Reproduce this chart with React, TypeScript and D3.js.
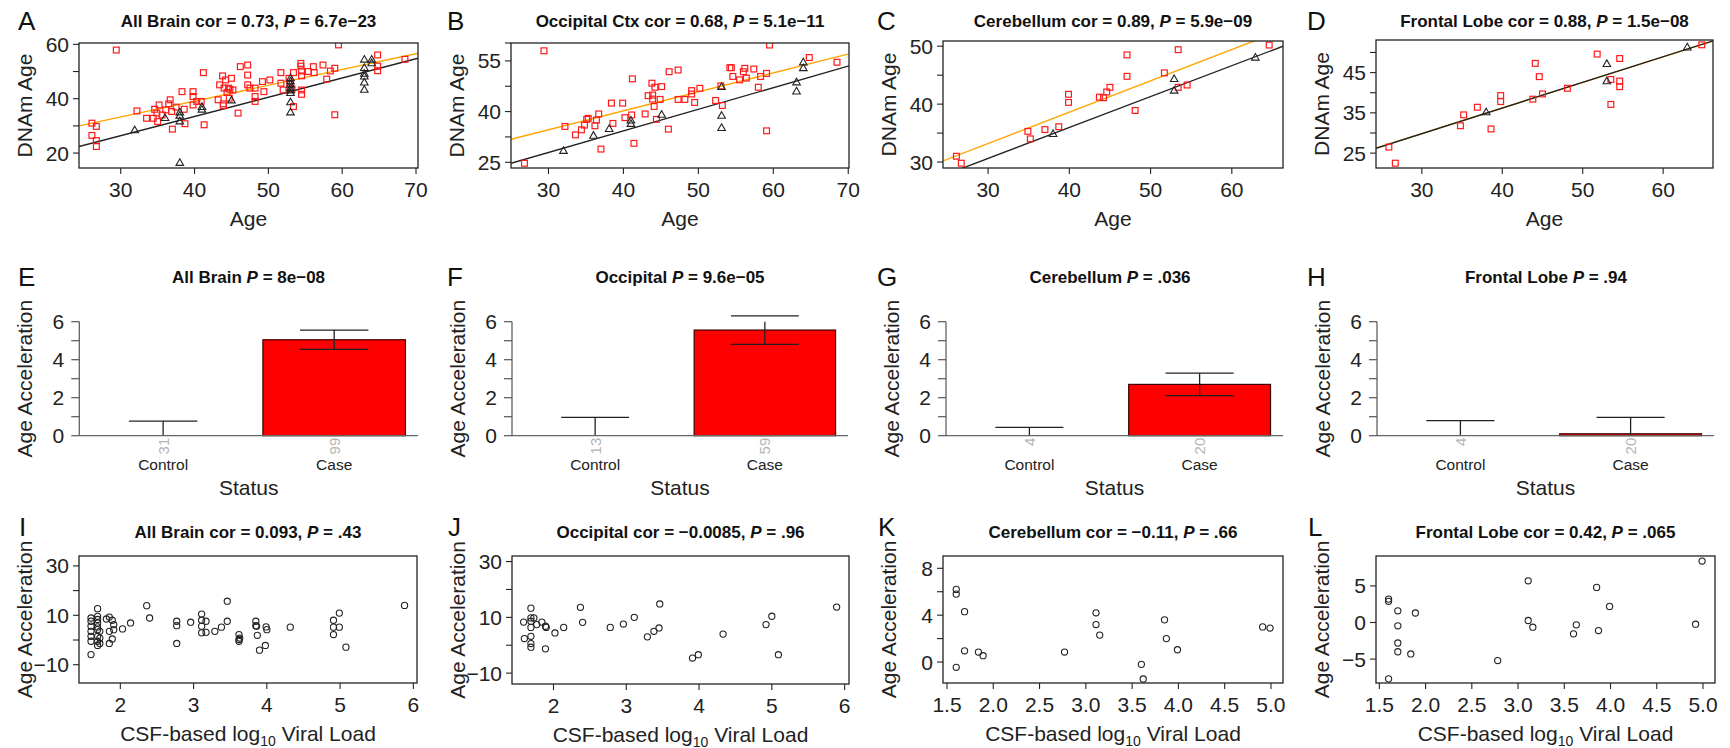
import React from 'react';
import * as d3 from 'd3';

type Pt = [number, number];

// ---------------- Row 1: chronological age vs DNAm age ----------------
// red squares = HIV cases, black triangles = controls; fits are [intercept, slope]
const allBrainCases: Pt[] = [
  [26.1, 31.0], [26.1, 26.5], [26.7, 29.8], [26.7, 24.6], [26.7, 22.4], [29.4, 57.9], [32.2, 35.5],
  [33.5, 32.8], [34.4, 32.8], [34.6, 36.1], [34.9, 34.7], [35.0, 31.6], [35.2, 37.7], [35.6, 34.0],
  [36.1, 35.9], [36.5, 38.1], [36.7, 39.6], [36.9, 35.3], [37.0, 28.8], [37.5, 36.9], [38.3, 42.6],
  [38.6, 36.1], [38.7, 30.8], [39.8, 42.6], [39.8, 40.8], [39.8, 37.7], [40.3, 39.0], [40.9, 39.0],
  [41.2, 49.6], [41.3, 30.4], [43.2, 39.6], [43.4, 45.1], [43.8, 48.4], [43.9, 38.1], [43.9, 37.4],
  [44.0, 43.9], [44.2, 46.9], [44.4, 42.3], [44.6, 43.9], [44.7, 40.2], [44.8, 43.5], [45.0, 47.5],
  [45.2, 43.2], [45.9, 34.7], [46.2, 51.8], [47.2, 52.4], [47.2, 48.7], [47.2, 45.1], [47.5, 43.9],
  [48.2, 43.9], [48.2, 40.8], [48.2, 39.0], [49.2, 46.3], [49.4, 42.6], [50.2, 46.9], [51.7, 49.6],
  [51.7, 45.7], [52.0, 43.2], [52.8, 47.5], [52.9, 45.7], [53.2, 43.5], [53.4, 37.1], [53.4, 49.6],
  [54.4, 53.0], [54.4, 52.0], [54.5, 50.2], [54.5, 48.4], [54.5, 43.2], [54.5, 41.6], [55.4, 50.0],
  [56.1, 51.8], [56.2, 49.6], [57.4, 52.4], [57.9, 47.2], [58.4, 50.2], [59.0, 51.2], [59.0, 34.1],
  [59.5, 59.8], [64.8, 56.1], [64.8, 52.0], [64.8, 50.3], [68.5, 54.5],
];
const allBrainControls: Pt[] = [
  [31.9, 28.3], [36.0, 32.8], [38.0, 16.3], [38.0, 34.9], [38.0, 33.7], [38.0, 31.6], [41.0, 36.9],
  [41.0, 35.9], [45.0, 39.3], [53.0, 47.5], [53.0, 46.3], [53.0, 45.1], [53.0, 43.9], [53.0, 43.0],
  [53.0, 42.0], [53.0, 38.6], [53.0, 34.9], [63.0, 54.3], [63.0, 51.2], [63.0, 49.1], [63.0, 48.1],
  [63.0, 45.9], [63.0, 43.2], [64.0, 54.3], [64.0, 53.0],
];
const allBrainCaseFit = [15.83, 0.582];
const allBrainControlFit = [5.16, 0.708];

const occipitalCases: Pt[] = [
  [26.8, 24.7], [29.4, 58.0], [32.2, 35.6], [33.6, 33.1], [34.4, 34.6], [34.8, 36.0], [35.1, 37.7],
  [35.3, 38.0], [36.2, 35.8], [36.4, 37.5], [36.7, 39.3], [37.0, 28.9], [38.6, 36.5], [38.4, 42.5],
  [39.9, 42.5], [40.2, 38.2], [41.1, 39.0], [41.2, 49.7], [41.4, 30.6], [42.9, 39.3], [43.3, 44.7],
  [43.8, 48.4], [43.9, 44.9], [43.9, 43.7], [44.1, 41.5], [44.2, 47.2], [44.4, 37.7], [44.9, 43.6],
  [45.1, 47.4], [46.1, 51.8], [46.0, 34.8], [47.3, 52.3], [47.3, 43.6], [48.2, 43.6], [49.1, 46.2],
  [49.1, 45.2], [49.5, 42.7], [50.2, 46.9], [52.3, 43.3], [53.0, 47.6], [53.2, 41.8], [54.2, 53.0],
  [54.4, 53.0], [54.6, 50.4], [55.5, 49.4], [56.0, 51.8], [56.2, 52.8], [56.4, 49.9], [57.4, 52.6],
  [58.0, 47.2], [58.3, 50.4], [59.1, 51.3], [59.1, 34.3], [59.5, 59.7], [64.8, 56.0], [68.5, 54.6],
];
const occipitalControls: Pt[] = [
  [32.0, 28.3], [36.0, 32.8], [38.1, 34.8], [41.0, 37.3], [41.0, 36.3], [45.1, 39.0], [53.1, 47.2],
  [53.1, 38.7], [53.1, 35.1], [63.1, 48.6], [63.1, 45.9], [64.0, 54.5], [64.0, 52.8],
];
const occipitalCaseFit = [17.77, 0.561];
const occipitalControlFit = [8.73, 0.639];

const cerebellumCases: Pt[] = [
  [26.1, 31.0], [26.7, 29.8], [34.9, 35.3], [35.2, 34.0], [37.0, 35.6], [38.7, 36.1], [39.9, 41.7],
  [39.9, 40.3], [43.7, 41.2], [44.2, 41.1], [44.6, 42.1], [45.0, 42.9], [47.1, 48.5], [47.1, 44.8],
  [48.1, 38.9], [51.7, 45.4], [53.4, 42.9], [53.4, 49.4], [54.5, 43.3], [64.6, 50.2],
];
const cerebellumControls: Pt[] = [[38.0, 34.8], [52.9, 44.3], [52.9, 42.3], [62.9, 48.0]];
const cerebellumCaseFit = [16.97, 0.541];
const cerebellumControlFit = [14.6, 0.534];

const frontalCases: Pt[] = [
  [25.9, 26.5], [26.7, 22.5], [34.8, 31.8], [35.2, 34.5], [36.9, 36.4], [38.6, 31.0], [39.8, 39.3],
  [39.8, 37.8], [43.8, 38.4], [44.1, 47.3], [44.6, 44.0], [45.0, 39.7], [48.1, 41.1], [51.8, 49.6],
  [53.5, 43.3], [53.5, 37.1], [54.6, 48.5], [54.6, 42.9], [54.6, 41.5], [64.8, 51.9],
];
const frontalControls: Pt[] = [[38.0, 35.1], [53.0, 47.1], [53.0, 42.8], [63.0, 51.2]];
const frontalCaseFit = [10.8, 0.635];
const frontalControlFit = [10.72, 0.637];

// ---------------- Row 2: mean age acceleration by status ----------------
const statusGroups = ['Control', 'Case'];
const allBrainAccel = [0, 5.05];
const allBrainAccelSe = [0.77, 0.51];
const allBrainN = [31, 99];
const occipitalAccel = [0, 5.56];
const occipitalAccelSe = [0.96, 0.75];
const occipitalN = [13, 59];
const cerebellumAccel = [0, 2.7];
const cerebellumAccelSe = [0.44, 0.59];
const cerebellumN = [4, 20];
const frontalAccel = [0, 0.1];
const frontalAccelSe = [0.79, 0.86];
const frontalN = [4, 20];

// ---------------- Row 3: CSF viral load vs age acceleration ----------------
const allBrainViral: Pt[] = [
  [1.6, -5.9], [1.6, -0.5], [1.6, 1.5], [1.6, 3.5], [1.6, 5.6], [1.6, 7.6], [1.6, 8.9],
  [1.69, 12.7], [1.69, 9.6], [1.69, 8.3], [1.69, 6.9], [1.69, 5.3], [1.69, 4.2], [1.69, 1.5],
  [1.69, -0.5], [1.69, -2.2], [1.72, 3.5], [1.72, 0.8], [1.72, -1.4], [1.81, 8.5], [1.85, 9.3],
  [1.85, -1.4], [1.85, 3.5], [1.89, 8.0], [1.89, 0.4], [1.91, 6.2], [1.91, 4.2], [2.03, 4.5],
  [2.14, 6.9], [2.36, 13.9], [2.4, 8.9], [2.77, 7.6], [2.77, 5.8], [2.77, -1.4], [2.96, 7.2],
  [3.11, 10.5], [3.11, 8.0], [3.11, 5.6], [3.11, 2.9], [3.17, 7.6], [3.17, 3.1], [3.29, 3.5],
  [3.38, 5.2], [3.46, 7.6], [3.46, 15.7], [3.62, 2.2], [3.62, 0.2], [3.63, 0.8], [3.62, -0.5],
  [3.85, 7.6], [3.85, 5.8], [3.86, 5.6], [3.87, 1.9], [3.9, -4.1], [3.98, -2.2], [3.99, 5.3],
  [4.0, 4.2], [4.32, 5.2], [4.91, 8.0], [4.91, 5.2], [4.91, 2.2], [4.99, 10.9], [4.99, 5.2],
  [5.08, -2.9], [5.88, 14.0],
];
const occipitalViral: Pt[] = [
  [1.59, 8.3], [1.6, 2.4], [1.69, 13.3], [1.69, 9.8], [1.69, 8.6], [1.69, 6.4], [1.69, 3.2],
  [1.69, 0.6], [1.69, -0.7], [1.73, 9.8], [1.77, 7.4], [1.84, 8.3], [1.89, 6.8], [1.9, 6.4],
  [1.89, -1.3], [2.02, 4.4], [2.14, 6.4], [2.37, 13.6], [2.4, 8.2], [2.78, 6.4], [2.96, 7.6],
  [3.11, 10.0], [3.29, 3.0], [3.38, 5.0], [3.45, 6.2], [3.46, 14.8], [3.91, -4.6], [3.99, -3.4],
  [4.33, 4.0], [4.92, 7.4], [5.0, 10.4], [5.09, -3.4], [5.89, 13.7],
];
const cerebellumViral: Pt[] = [
  [1.6, 6.2], [1.6, 5.8], [1.6, -0.45], [1.69, 4.3], [1.69, 0.96], [1.84, 0.85], [1.89, 0.54],
  [2.77, 0.85], [3.11, 4.2], [3.11, 3.2], [3.15, 2.3], [3.6, -0.2], [3.62, -1.45], [3.85, 3.6],
  [3.87, 2.0], [3.99, 1.05], [4.91, 3.0], [4.99, 2.9],
];
const frontalViral: Pt[] = [
  [1.6, 3.2], [1.6, 2.9], [1.6, -7.7], [1.7, 1.6], [1.7, -0.45], [1.7, -2.8], [1.7, -4.0],
  [1.84, -4.3], [1.89, 1.3], [2.78, -5.2], [3.11, 5.7], [3.11, 0.27], [3.16, -0.64], [3.6, -1.55],
  [3.63, -0.32], [3.85, 4.8], [3.87, -1.1], [3.99, 2.2], [4.92, -0.23], [4.99, 8.4],
];

const FONT = 'Liberation Sans, Arial, Helvetica, sans-serif';
const TICK_FS = 21;
const LAB_FS = 21;
const TITLE_FS = 17;
const LETTER_FS = 26;
const MINUS = '\u2212';

interface Box { l: number; r: number; t: number; b: number }

function Title({ x, y, name, cor, p }: { x: number; y: number; name: string; cor?: string; p: string }) {
  return (
    <text x={x} y={y} textAnchor="middle" fontWeight="bold" fontSize={TITLE_FS} fill="#111">
      {name + (cor !== undefined ? ` cor = ${cor}, ` : ' ')}
      <tspan fontStyle="italic">P</tspan>
      {` = ${p}`}
    </text>
  );
}

function Letter({ x, y, ch }: { x: number; y: number; ch: string }) {
  return <text x={x} y={y} fontSize={LETTER_FS} fill="#111">{ch}</text>;
}

interface ScatterProps {
  id: string;
  box: Box;
  xDomain: [number, number];
  yDomain: [number, number];
  xTicks: number[];
  xFmt: (v: number) => string;
  yTicks: number[];
  yLabels: number[];
  yLabel: string;
  xLabel: 'age' | 'viral';
  squares?: Pt[];
  triangles?: Pt[];
  circles?: Pt[];
  fits?: { coef: number[]; color: string }[];
}

const fmtMinus = (v: number) => (v < 0 ? MINUS + Math.abs(v) : String(v));

function Scatter(p: ScatterProps) {
  const { box } = p;
  const x = d3.scaleLinear().domain(p.xDomain).range([box.l, box.r]);
  const y = d3.scaleLinear().domain(p.yDomain).range([box.b, box.t]);
  const midX = (box.l + box.r) / 2;
  const midY = (box.t + box.b) / 2;
  const tri = 'M0,-4.3L3.8,2.3L-3.8,2.3Z';
  return (
    <g>
      <defs>
        <clipPath id={`clip-${p.id}`}>
          <rect x={box.l} y={box.t} width={box.r - box.l} height={box.b - box.t} />
        </clipPath>
      </defs>
      <g clipPath={`url(#clip-${p.id})`}>
        {(p.fits || []).map((f, i) => {
          const [a, b] = f.coef;
          const [x0, x1] = p.xDomain;
          return (
            <line key={i} x1={x(x0)} y1={y(a + b * x0)} x2={x(x1)} y2={y(a + b * x1)}
              stroke={f.color} strokeWidth={1.4} />
          );
        })}
        {(p.squares || []).map((d, i) => (
          <rect key={'s' + i} x={x(d[0]) - 2.9} y={y(d[1]) - 2.9} width={5.8} height={5.8}
            fill="none" stroke="#ff1a1a" strokeWidth={1.2} />
        ))}
        {(p.triangles || []).map((d, i) => (
          <path key={'t' + i} d={tri} transform={`translate(${x(d[0])},${y(d[1])})`}
            fill="none" stroke="#222" strokeWidth={1.1} />
        ))}
        {(p.circles || []).map((d, i) => (
          <circle key={'c' + i} cx={x(d[0])} cy={y(d[1])} r={3.1}
            fill="none" stroke="#222" strokeWidth={1.1} />
        ))}
      </g>
      <rect x={box.l} y={box.t} width={box.r - box.l} height={box.b - box.t}
        fill="none" stroke="#222" strokeWidth={1.3} />
      {p.xTicks.map((t) => (
        <g key={'xt' + t}>
          <line x1={x(t)} x2={x(t)} y1={box.b} y2={box.b + 6} stroke="#222" strokeWidth={1.1} />
          <text x={x(t)} y={box.b + 29} textAnchor="middle" fontSize={TICK_FS} fill="#222">{p.xFmt(t)}</text>
        </g>
      ))}
      {p.yTicks.map((t) => (
        <line key={'yt' + t} x1={box.l - 6} x2={box.l} y1={y(t)} y2={y(t)} stroke="#222" strokeWidth={1.1} />
      ))}
      {p.yLabels.map((t) => (
        <text key={'yl' + t} x={box.l - 10} y={y(t)} textAnchor="end" dominantBaseline="central"
          fontSize={TICK_FS} fill="#222">{fmtMinus(t)}</text>
      ))}
      <text transform={`translate(${box.l - 55},${midY}) rotate(-90)`} textAnchor="middle"
        dominantBaseline="central" fontSize={LAB_FS} fill="#222">{p.yLabel}</text>
      {p.xLabel === 'age' ? (
        <text x={midX} y={box.b + 58} textAnchor="middle" fontSize={LAB_FS} fill="#222">Age</text>
      ) : (
        <text x={midX} y={box.b + 58} textAnchor="middle" fontSize={LAB_FS} fill="#222">
          CSF-based log<tspan dy={5} fontSize={14}>10</tspan><tspan dy={-5}> Viral Load</tspan>
        </text>
      )}
    </g>
  );
}

interface BarProps {
  axisX: number;
  right: number;
  mean: number[];
  se: number[];
  n: number[];
}

const BAR_Y0 = 435.7;
const BAR_Y6 = 321.7;

function Bars(p: BarProps) {
  const y = d3.scaleLinear().domain([0, 6]).range([BAR_Y0, BAR_Y6]);
  const x = d3.scaleBand().domain(statusGroups).range([p.axisX, p.right])
    .paddingInner(1 / 6).paddingOuter(0.0733);
  const bw = x.bandwidth();
  const capHalf = bw * 0.24;
  const mid = (p.axisX + p.right) / 2;
  const clampY = (v: number) => y(Math.max(0, Math.min(6, v)));
  return (
    <g>
      {statusGroups.map((g, i) => {
        const x0 = x(g)!;
        const cx = x0 + bw / 2;
        const m = p.mean[i];
        const hi = m + p.se[i];
        const lo = m - p.se[i];
        return (
          <g key={g}>
            {m > 0 && (
              <rect x={x0} y={y(m)} width={bw} height={y(0) - y(m)} fill="#ff0000"
                stroke="#3a0000" strokeWidth={1.2} />
            )}
            <line x1={cx} x2={cx} y1={clampY(lo)} y2={clampY(hi)} stroke="#222" strokeWidth={1.3} />
            <line x1={cx - capHalf} x2={cx + capHalf} y1={y(hi)} y2={y(hi)} stroke="#222" strokeWidth={1.3} />
            {lo > 0 && (
              <line x1={cx - capHalf} x2={cx + capHalf} y1={y(lo)} y2={y(lo)} stroke="#222" strokeWidth={1.3} />
            )}
            <text transform={`translate(${cx},${BAR_Y0 + 2}) rotate(-90)`} textAnchor="end"
              dominantBaseline="central" fontSize={15} fill="#b4b4b4">{p.n[i]}</text>
            <text x={cx} y={470} textAnchor="middle" fontSize={15.5} fill="#222">{g}</text>
          </g>
        );
      })}
      <line x1={p.axisX} x2={p.right} y1={y(0)} y2={y(0)} stroke="#666" strokeWidth={1.3} />
      <line x1={p.axisX} x2={p.axisX} y1={y(0)} y2={y(6)} stroke="#555" strokeWidth={1.2} />
      {d3.range(0, 7).map((t) => (
        <line key={t} x1={p.axisX - 8} x2={p.axisX} y1={y(t)} y2={y(t)} stroke="#555" strokeWidth={1.2} />
      ))}
      {[0, 2, 4, 6].map((t) => (
        <text key={'l' + t} x={p.axisX - 15} y={y(t)} textAnchor="end" dominantBaseline="central"
          fontSize={TICK_FS} fill="#222">{t}</text>
      ))}
      <text transform={`translate(${p.axisX - 55},${(y(0) + y(6)) / 2}) rotate(-90)`} textAnchor="middle"
        dominantBaseline="central" fontSize={LAB_FS} fill="#222">Age Acceleration</text>
      <text x={mid} y={495} textAnchor="middle" fontSize={LAB_FS} fill="#222">Status</text>
    </g>
  );
}

const intFmt = (v: number) => String(v);
const oneDec = (v: number) => v.toFixed(1);

export default function App() {
  const row1Boxes: Box[] = [
    { l: 79, r: 418, t: 43, b: 168 },
    { l: 511, r: 849, t: 43, b: 168 },
    { l: 943, r: 1283, t: 41, b: 168 },
    { l: 1376, r: 1713, t: 40, b: 168 },
  ];
  const row3Boxes: Box[] = [
    { l: 79, r: 417, t: 556, b: 683 },
    { l: 512, r: 849, t: 556, b: 684 },
    { l: 943, r: 1283, t: 556, b: 683 },
    { l: 1376, r: 1715, t: 556, b: 683 },
  ];
  const barAxes = [[79.3, 418], [512, 848], [946, 1283], [1377, 1714]];
  const centers = row1Boxes.map((b) => (b.l + b.r) / 2);
  const centers3 = row3Boxes.map((b) => (b.l + b.r) / 2);
  const letterX = [18, 447, 877, 1307];

  return (
    <svg width={1730} height={748} style={{ position: 'absolute', left: 0, top: 0, background: '#fff' }}
      fontFamily={FONT}>
      <rect width={1730} height={748} fill="#fff" />
      {/* Row 1 */}
      {['A', 'B', 'C', 'D'].map((c, i) => <Letter key={c} x={letterX[i]} y={30} ch={c} />)}
      <Title x={centers[0]} y={27} name="All Brain" cor="0.73" p={`6.7e${MINUS}23`} />
      <Title x={centers[1]} y={27} name="Occipital Ctx" cor="0.68" p={`5.1e${MINUS}11`} />
      <Title x={centers[2]} y={27} name="Cerebellum" cor="0.89" p={`5.9e${MINUS}09`} />
      <Title x={centers[3]} y={27} name="Frontal Lobe" cor="0.88" p={`1.5e${MINUS}08`} />
      <Scatter id="a" box={row1Boxes[0]} xDomain={[24.35, 70.27]} yDomain={[14.5, 60.5]}
        xTicks={[30, 40, 50, 60, 70]} xFmt={intFmt} yTicks={[20, 30, 40, 50, 60]} yLabels={[20, 40, 60]}
        yLabel="DNAm Age" xLabel="age" squares={allBrainCases} triangles={allBrainControls}
        fits={[{ coef: allBrainCaseFit, color: '#ffa500' }, { coef: allBrainControlFit, color: '#222' }]} />
      <Scatter id="b" box={row1Boxes[1]} xDomain={[25.0, 70.1]} yDomain={[23.3, 60.3]}
        xTicks={[30, 40, 50, 60, 70]} xFmt={intFmt} yTicks={[25, 32.5, 40, 47.5, 55, 60.3]} yLabels={[25, 40, 55]}
        yLabel="DNAm Age" xLabel="age" squares={occipitalCases} triangles={occipitalControls}
        fits={[{ coef: occipitalCaseFit, color: '#ffa500' }, { coef: occipitalControlFit, color: '#222' }]} />
      <Scatter id="c" box={row1Boxes[2]} xDomain={[24.45, 66.3]} yDomain={[28.97, 50.9]}
        xTicks={[30, 40, 50, 60]} xFmt={intFmt} yTicks={[30, 35, 40, 45, 50]} yLabels={[30, 40, 50]}
        yLabel="DNAm Age" xLabel="age" squares={cerebellumCases} triangles={cerebellumControls}
        fits={[{ coef: cerebellumCaseFit, color: '#ffa500' }, { coef: cerebellumControlFit, color: '#222' }]} />
      <Scatter id="d" box={row1Boxes[3]} xDomain={[24.3, 66.2]} yDomain={[21.3, 53.1]}
        xTicks={[30, 40, 50, 60]} xFmt={intFmt} yTicks={[25, 30, 35, 40, 45, 50]} yLabels={[25, 35, 45]}
        yLabel="DNAm Age" xLabel="age" squares={frontalCases} triangles={frontalControls}
        fits={[{ coef: frontalCaseFit, color: '#ffa500' }, { coef: frontalControlFit, color: '#222' }]} />

      {/* Row 2 */}
      {['E', 'F', 'G', 'H'].map((c, i) => <Letter key={c} x={letterX[i]} y={286} ch={c} />)}
      <Title x={248.5} y={283} name="All Brain" p={`8e${MINUS}08`} />
      <Title x={680} y={283} name="Occipital" p={`9.6e${MINUS}05`} />
      <Title x={1110} y={283} name="Cerebellum" p=".036" />
      <Title x={1546} y={283} name="Frontal Lobe" p=".94" />
      <Bars axisX={barAxes[0][0]} right={barAxes[0][1]} mean={allBrainAccel} se={allBrainAccelSe} n={allBrainN} />
      <Bars axisX={barAxes[1][0]} right={barAxes[1][1]} mean={occipitalAccel} se={occipitalAccelSe} n={occipitalN} />
      <Bars axisX={barAxes[2][0]} right={barAxes[2][1]} mean={cerebellumAccel} se={cerebellumAccelSe} n={cerebellumN} />
      <Bars axisX={barAxes[3][0]} right={barAxes[3][1]} mean={frontalAccel} se={frontalAccelSe} n={frontalN} />

      {/* Row 3 */}
      {['I', 'J', 'K', 'L'].map((c, i) => <Letter key={c} x={letterX[i] + 1} y={536} ch={c} />)}
      <Title x={centers3[0]} y={538} name="All Brain" cor="0.093" p=".43" />
      <Title x={centers3[1]} y={538} name="Occipital" cor={`${MINUS}0.0085`} p=".96" />
      <Title x={centers3[2]} y={538} name="Cerebellum" cor={`${MINUS}0.11`} p=".66" />
      <Title x={centers3[3]} y={538} name="Frontal Lobe" cor="0.42" p=".065" />
      <Scatter id="i" box={row3Boxes[0]} xDomain={[1.436, 6.05]} yDomain={[-17.4, 34.0]}
        xTicks={[2, 3, 4, 5, 6]} xFmt={intFmt} yTicks={[-10, 0, 10, 20, 30]} yLabels={[-10, 10, 30]}
        yLabel="Age Acceleration" xLabel="viral" circles={allBrainViral} />
      <Scatter id="j" box={row3Boxes[1]} xDomain={[1.43, 6.06]} yDomain={[-13.9, 32.0]}
        xTicks={[2, 3, 4, 5, 6]} xFmt={intFmt} yTicks={[-10, 0, 10, 20, 30]} yLabels={[-10, 10, 30]}
        yLabel="Age Acceleration" xLabel="viral" circles={occipitalViral} />
      <Scatter id="k" box={row3Boxes[2]} xDomain={[1.457, 5.13]} yDomain={[-1.79, 9.05]}
        xTicks={d3.range(1.5, 5.01, 0.5)} xFmt={oneDec} yTicks={[0, 2, 4, 6, 8]} yLabels={[0, 4, 8]}
        yLabel="Age Acceleration" xLabel="viral" circles={cerebellumViral} />
      <Scatter id="l" box={row3Boxes[3]} xDomain={[1.464, 5.13]} yDomain={[-8.27, 9.09]}
        xTicks={d3.range(1.5, 5.01, 0.5)} xFmt={oneDec} yTicks={[-5, 0, 5]} yLabels={[-5, 0, 5]}
        yLabel="Age Acceleration" xLabel="viral" circles={frontalViral} />
    </svg>
  );
}
